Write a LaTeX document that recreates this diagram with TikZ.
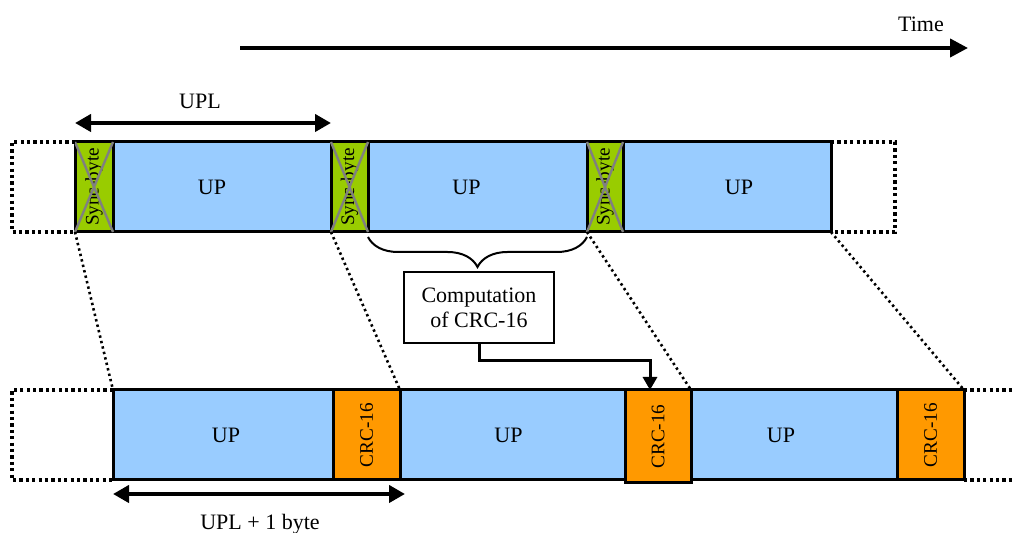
\documentclass[tikz,border=0pt]{standalone}
\usepackage{fontspec}
\setmainfont{Liberation Serif}
\usetikzlibrary{arrows.meta,fit,decorations.pathreplacing}

\definecolor{upblue}{HTML}{99CCFF}
\definecolor{syncgreen}{HTML}{99CC00}
\definecolor{crcorange}{HTML}{FF9900}
\definecolor{xgray}{HTML}{808080}

\begin{document}
\begin{tikzpicture}[x=0.5pt,y=-0.5pt,>={Triangle[length=8pt,width=8.5pt]},
    every node/.style={font=\fontsize{11}{12.5}\selectfont},
    cell/.style={draw=black,line width=1.5pt,inner sep=0pt,outer sep=0pt},
    upcell/.style={cell,fill=upblue,label={[xshift=#1]center:UP}},
    upcell/.default=0pt,
    synccell/.style={cell,fill=syncgreen,
      label={[rotate=90,font=\fontsize{9.6}{11}\selectfont]center:Sync-byte}},
    crccell/.style={cell,fill=crcorange,
      label={[rotate=90,font=\fontsize{9.6}{11}\selectfont]center:CRC-16}},
    frame/.style={line width=1.8pt,dash pattern=on 1.6pt off 1.6pt},
    guide/.style={line width=1.3pt,dash pattern=on 1.2pt off 1.6pt},
    cross/.style={xgray,line width=1.2pt}]
  \useasboundingbox (0,0) rectangle (1013,533);

  % time axis
  \coordinate (t0) at (240,48);
  \coordinate (t1) at (968,48);
  \draw[-{Triangle[length=9pt,width=9pt]},line width=2pt] (t0) -- (t1);
  \node (time) at (921,24) {Time};

  % received stream with sync bytes
  \node[synccell,fit={(75,142) (113,232)}]  (sync1) {};
  \node[upcell=-5pt,fit={(113,142) (331,232)}] (up1) {};
  \node[synccell,fit={(331,142) (368,232)}] (sync2) {};
  \node[upcell=-5.5pt,fit={(368,142) (587,232)}] (up2) {};
  \node[synccell,fit={(587,142) (623,232)}] (sync3) {};
  \node[upcell=6pt,fit={(623,142) (831,232)}] (up3) {};
  \foreach \s in {sync1,sync2,sync3}
    \draw[cross] (\s.north west) -- (\s.south east)
                 (\s.north east) -- (\s.south west);

  \draw[frame] (sync1.north west) -- (12,142) -- (12,232) -- (sync1.south west);
  \draw[frame] (up3.north east) -- (895,142) -- (895,232) -- (up3.south east);

  \draw[<->,line width=2pt] ([yshift=9.5pt]sync1.north west) -- ([yshift=9.5pt]sync2.north west);
  \node (upl) at (200,101) {UPL};

  % stream with CRC-16
  \node[upcell=1.5pt,fit={(113,390) (333,480)}] (bup1) {};
  \node[crccell,fit={(333,390) (400,480)}] (crc1) {};
  \node[upcell=-2pt,fit={(400,390) (625,480)}] (bup2) {};
  \node[crccell,fit={(625,390) (691,483)}] (crc2) {};
  \node[upcell=-6.5pt,fit={(691,390) (897,480)}] (bup3) {};
  \node[crccell,fit={(897,390) (964,480)}] (crc3) {};

  \draw[frame] (bup1.north west) -- (12,390) -- (12,480) -- (bup1.south west);
  \draw[frame] (crc3.north east) -- (1013,390) (crc3.south east) -- (1013,480);

  \draw[guide] (sync1.south west) -- (bup1.north west);
  \draw[guide] (sync2.south west) -- (crc1.north east);
  \draw[guide] (sync3.south west) -- (crc2.north east);
  \draw[guide] (up3.south east) -- (crc3.north east);

  \draw[<->,line width=2pt] ([yshift=-7pt]bup1.south west) -- ([xshift=2.5pt,yshift=-7pt]crc1.south east);
  \node[anchor=base] (upl1) at (260,530) {UPL + 1 byte};

  % CRC computation
  \draw[decorate,decoration={brace,mirror,amplitude=15pt},line width=1pt]
    ([yshift=-2.5pt]up2.south west) -- ([yshift=-2.5pt]up2.south east);
  \node[draw,line width=1pt,minimum width=75pt,minimum height=35.5pt,
        align=center,inner sep=0pt] (comp) at (479,308) {Computation\\of CRC-16};
  \draw[-{Triangle[length=6.5pt,width=7pt]},line width=1.5pt]
    (comp.south) -- ++(0,16) -| ([xshift=-4pt]crc2.north);
\end{tikzpicture}
\end{document}
